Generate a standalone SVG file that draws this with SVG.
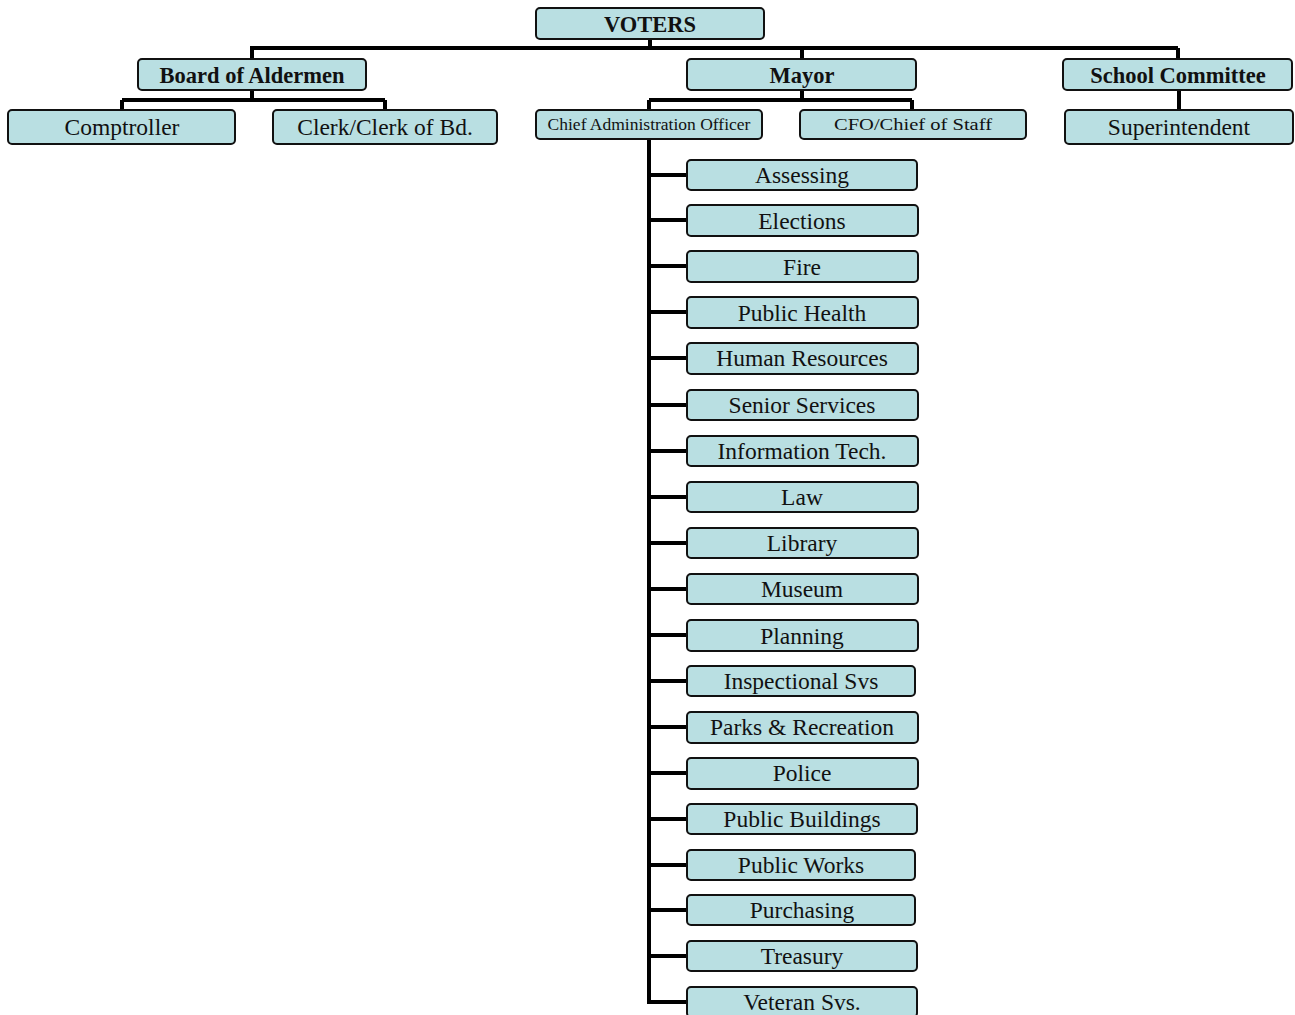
<svg xmlns="http://www.w3.org/2000/svg" width="1295" height="1015" viewBox="0 0 1295 1015">
<style>
.b{fill:#b9dfe2;stroke:#111;stroke-width:2}
.t{font-family:"Liberation Serif","DejaVu Serif",serif;fill:#111;text-anchor:middle;font-size:23.5px}
.h{font-weight:bold;font-size:22.5px}
.s{font-size:17.5px}
.c{fill:none;stroke:#000;stroke-width:4}
</style>
<rect width="1295" height="1015" fill="#fff"/>
<g id="connectors">
<path class="c" d="M650 39V48M250 48H1178M252 48V59M802 48V59M1178 48V59"/>
<path class="c" d="M252 90V100M122 100H385M122 100V110M385 100V110"/>
<path class="c" d="M802 90V100M649 100H912M649 100V110M912 100V110"/>
<path class="c" d="M1179 90V110"/>
<path class="c" d="M649 139V1002H687"/>
<path class="c" d="M649 175H687M649 220H687M649 266H687M649 312H687M649 358H687M649 405H687M649 451H687M649 497H687M649 543H687M649 589H687M649 635H687M649 681H687M649 727H687M649 773H687M649 819H687M649 865H687M649 910H687M649 956H687"/>
</g>
<g id="voters"><rect class="b" x="536" y="8" width="228" height="31" rx="4"/><text class="t h" x="650" y="32">VOTERS</text></g>
<g id="board"><rect class="b" x="138" y="59" width="228" height="31" rx="4"/><text class="t h" x="252" y="83">Board of Aldermen</text></g>
<g id="mayor"><rect class="b" x="687" y="59" width="229" height="31" rx="4"/><text class="t h" x="802" y="83">Mayor</text></g>
<g id="school"><rect class="b" x="1063" y="59" width="229" height="31" rx="4"/><text class="t h" x="1178" y="83">School Committee</text></g>
<g id="comptroller"><rect class="b" x="8" y="110" width="227" height="34" rx="4"/><text class="t" x="122" y="135">Comptroller</text></g>
<g id="clerk"><rect class="b" x="273" y="110" width="224" height="34" rx="4"/><text class="t" x="385" y="135">Clerk/Clerk of Bd.</text></g>
<g id="cao"><rect class="b" x="536" y="110" width="226" height="29" rx="4"/><text class="t s" x="649" y="130">Chief Administration Officer</text></g>
<g id="cfo"><rect class="b" x="800" y="110" width="226" height="29" rx="4"/><text class="t s" x="913" y="130" textLength="158" lengthAdjust="spacingAndGlyphs">CFO/Chief of Staff</text></g>
<g id="superintendent"><rect class="b" x="1065" y="110" width="228" height="34" rx="4"/><text class="t" x="1179" y="135">Superintendent</text></g>
<g id="assessing"><rect class="b" x="687" y="160" width="230" height="30" rx="4"/><text class="t" x="802" y="183">Assessing</text></g>
<g id="elections"><rect class="b" x="687" y="205" width="231" height="31" rx="4"/><text class="t" x="802" y="229">Elections</text></g>
<g id="fire"><rect class="b" x="687" y="251" width="231" height="31" rx="4"/><text class="t" x="802" y="275">Fire</text></g>
<g id="publichealth"><rect class="b" x="687" y="297" width="231" height="31" rx="4"/><text class="t" x="802" y="321">Public Health</text></g>
<g id="hr"><rect class="b" x="687" y="343" width="231" height="31" rx="4"/><text class="t" x="802" y="366">Human Resources</text></g>
<g id="senior"><rect class="b" x="687" y="390" width="231" height="30" rx="4"/><text class="t" x="802" y="413">Senior Services</text></g>
<g id="it"><rect class="b" x="687" y="436" width="231" height="30" rx="4"/><text class="t" x="802" y="459">Information Tech.</text></g>
<g id="law"><rect class="b" x="687" y="482" width="231" height="30" rx="4"/><text class="t" x="802" y="505">Law</text></g>
<g id="library"><rect class="b" x="687" y="528" width="231" height="30" rx="4"/><text class="t" x="802" y="551">Library</text></g>
<g id="museum"><rect class="b" x="687" y="574" width="231" height="30" rx="4"/><text class="t" x="802" y="597">Museum</text></g>
<g id="planning"><rect class="b" x="687" y="620" width="231" height="31" rx="4"/><text class="t" x="802" y="644">Planning</text></g>
<g id="inspectional"><rect class="b" x="687" y="666" width="228" height="30" rx="4"/><text class="t" x="801" y="689">Inspectional Svs</text></g>
<g id="parks"><rect class="b" x="687" y="712" width="231" height="31" rx="4"/><text class="t" x="802" y="735">Parks &amp; Recreation</text></g>
<g id="police"><rect class="b" x="687" y="758" width="231" height="31" rx="4"/><text class="t" x="802" y="781">Police</text></g>
<g id="publicbuildings"><rect class="b" x="687" y="804" width="230" height="30" rx="4"/><text class="t" x="802" y="827">Public Buildings</text></g>
<g id="publicworks"><rect class="b" x="687" y="850" width="228" height="30" rx="4"/><text class="t" x="801" y="873">Public Works</text></g>
<g id="purchasing"><rect class="b" x="687" y="895" width="228" height="30" rx="4"/><text class="t" x="802" y="918">Purchasing</text></g>
<g id="treasury"><rect class="b" x="687" y="941" width="230" height="30" rx="4"/><text class="t" x="802" y="964">Treasury</text></g>
<g id="veteran"><rect class="b" x="687" y="987" width="230" height="30" rx="4"/><text class="t" x="802" y="1010">Veteran Svs.</text></g>
</svg>
